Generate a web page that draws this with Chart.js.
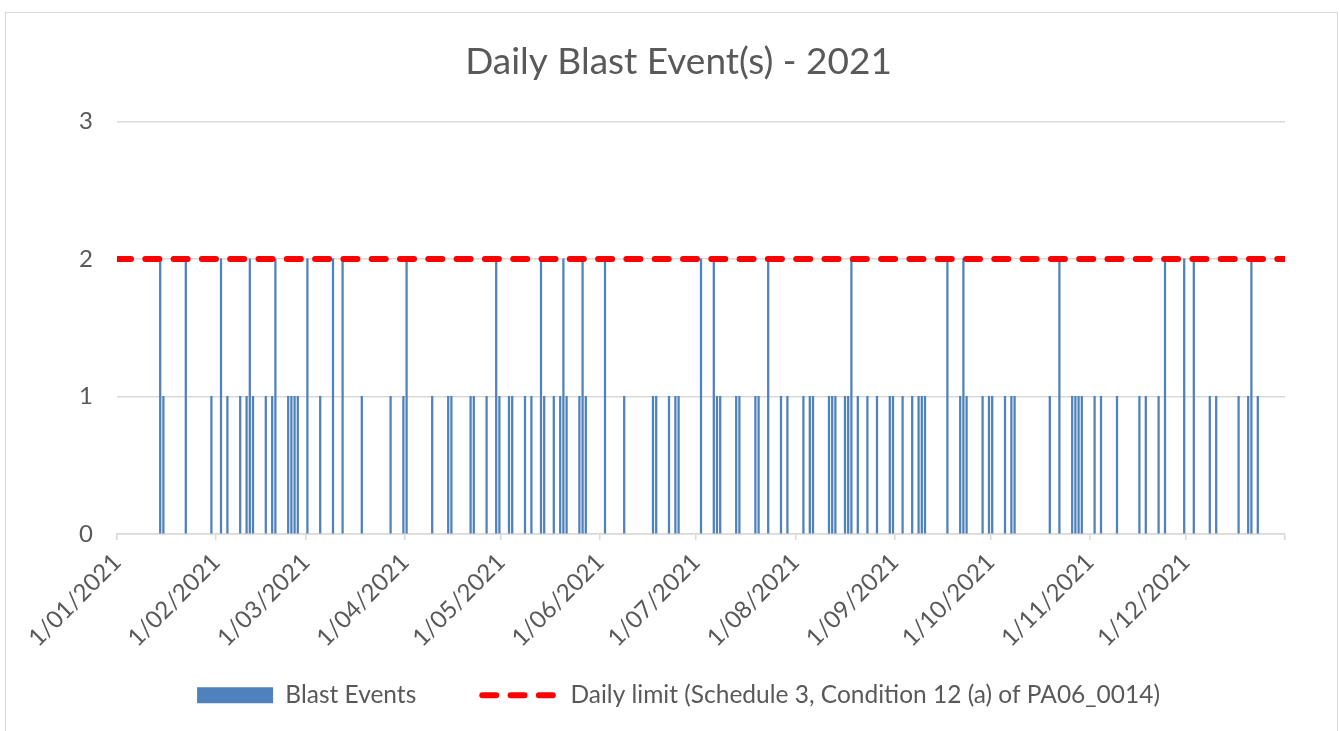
<!DOCTYPE html>
<html><head><meta charset="utf-8">
<script src="https://cdn.jsdelivr.net/npm/chart.js@4.4.1/dist/chart.umd.min.js"></script>
<style>
html,body{margin:0;padding:0;background:#fff;overflow:hidden;width:1339px;height:731px}
#c{position:absolute;left:0;top:0}
#frame{position:absolute;left:5px;top:12px;width:1333px;height:740px;border:1.5px solid #d9d9d9;box-sizing:border-box;pointer-events:none}
</style></head><body>
<canvas id="c" width="1339" height="731"></canvas>
<div id="frame"></div>
<script>
const chartTitle = 'Daily Blast Event(s) - 2021';
const seriesNames = ['Blast Events', 'Daily limit (Schedule 3, Condition 12 (a) of PA06_0014)'];
const blastDates = [
  '2021-01-14','2021-01-15','2021-01-22','2021-01-30',
  '2021-02-02','2021-02-04','2021-02-08','2021-02-10','2021-02-11','2021-02-12','2021-02-16','2021-02-18','2021-02-19','2021-02-23','2021-02-24','2021-02-25','2021-02-26',
  '2021-03-01','2021-03-05','2021-03-09','2021-03-12','2021-03-18','2021-03-27','2021-03-31',
  '2021-04-01','2021-04-09','2021-04-14','2021-04-15','2021-04-21','2021-04-22','2021-04-26','2021-04-29','2021-04-30',
  '2021-05-03','2021-05-04','2021-05-08','2021-05-10','2021-05-13','2021-05-14','2021-05-17','2021-05-19','2021-05-20','2021-05-21','2021-05-25','2021-05-26','2021-05-27',
  '2021-06-02','2021-06-08','2021-06-17','2021-06-18','2021-06-22','2021-06-24','2021-06-25',
  '2021-07-02','2021-07-06','2021-07-07','2021-07-08','2021-07-13','2021-07-14','2021-07-19','2021-07-20','2021-07-23','2021-07-27','2021-07-29',
  '2021-08-03','2021-08-05','2021-08-06','2021-08-11','2021-08-12','2021-08-13','2021-08-16','2021-08-17','2021-08-18','2021-08-20','2021-08-23','2021-08-26','2021-08-30','2021-08-31',
  '2021-09-03','2021-09-06','2021-09-08','2021-09-09','2021-09-10','2021-09-17','2021-09-21','2021-09-22','2021-09-23','2021-09-28','2021-09-30',
  '2021-10-01','2021-10-05','2021-10-07','2021-10-08','2021-10-19','2021-10-22','2021-10-26','2021-10-27','2021-10-28','2021-10-29',
  '2021-11-02','2021-11-04','2021-11-09','2021-11-16','2021-11-18','2021-11-22','2021-11-24','2021-11-30',
  '2021-12-03','2021-12-08','2021-12-10','2021-12-17','2021-12-20','2021-12-21','2021-12-23'
];
const blastCounts = [
  2,1,2,1,
  2,1,1,1,2,1,1,1,2,1,1,1,1,
  2,1,2,2,1,1,1,
  2,1,1,1,1,1,1,2,1,
  1,1,1,1,2,1,1,1,2,1,1,2,1,
  2,1,1,1,1,1,1,
  2,2,1,1,1,1,1,1,2,1,1,
  1,1,1,1,1,1,1,1,2,1,1,1,1,1,
  1,1,1,1,1,2,1,2,1,1,1,
  1,1,1,1,1,2,1,1,1,1,
  1,1,1,1,1,1,2,2,
  2,1,1,1,1,2,1
];
const tickLabels = ['1/01/2021','1/02/2021','1/03/2021','1/04/2021','1/05/2021','1/06/2021','1/07/2021','1/08/2021','1/09/2021','1/10/2021','1/11/2021','1/12/2021'];
const yMin = 0, yMax = 3, yStep = 1;
const dailyLimit = 2;
const yearStart = '2021-01-01', yearEnd = '2022-01-01';

const DAY = 86400000;
const isoToDay = s => { const [y,m,d] = s.split('-').map(Number); return (Date.UTC(y,m-1,d) - Date.UTC(2021,0,1)) / DAY; };
const labelToDay = s => { const [d,m,y] = s.split('/').map(Number); return (Date.UTC(y,m-1,d) - Date.UTC(2021,0,1)) / DAY; };
const axisMin = isoToDay(yearStart), axisMax = isoToDay(yearEnd);
const tickDays = tickLabels.map(labelToDay).concat([axisMax]);

const grey = '#595959', gridGrey = '#d9d9d9', font = 'Lato';

new Chart(document.getElementById('c'), {
  type: 'bar',
  data: {
    datasets: [
      { type: 'bar', label: seriesNames[0], order: 1,
        data: blastDates.map((d, i) => ({ x: isoToDay(d) + 0.5, y: blastCounts[i] })),
        backgroundColor: '#4f81bd', barThickness: 1.6, borderWidth: 0 },
      { type: 'line', label: seriesNames[1], order: 0,
        data: [{ x: axisMin, y: dailyLimit }, { x: axisMax, y: dailyLimit }],
        borderColor: '#ff0000', borderWidth: 6, borderDash: [14, 14.3], borderCapStyle: 'round',
        pointRadius: 0, fill: false }
    ]
  },
  options: {
    responsive: false, animation: false,
    layout: { padding: { left: 72, right: 54, top: 0, bottom: 13.6 } },
    plugins: {
      tooltip: { enabled: false },
      title: { display: true, text: chartTitle, color: grey,
        font: { family: font, size: 37, weight: 'normal' }, padding: { top: 40, bottom: 37 } },
      legend: { position: 'bottom',
        labels: { usePointStyle: true, pointStyleWidth: 76, boxHeight: 16, padding: 66,
          color: grey, font: { family: font, size: 24.5 },
          generateLabels: (chart) => chart.data.datasets.map((ds, i) => ({
            text: ds.label, datasetIndex: i, hidden: false, fontColor: grey,
            fillStyle: ds.type === 'bar' ? ds.backgroundColor : 'rgba(0,0,0,0)',
            strokeStyle: ds.type === 'bar' ? ds.backgroundColor : ds.borderColor,
            lineWidth: ds.type === 'bar' ? 0 : ds.borderWidth,
            lineDash: ds.type === 'bar' ? [] : ds.borderDash,
            lineCap: 'round',
            pointStyle: ds.type === 'bar' ? 'rect' : 'line'
          }))
        } }
    },
    scales: {
      x: { type: 'linear', min: axisMin, max: axisMax, offset: false,
        afterBuildTicks: s => { s.ticks = tickDays.map(v => ({ value: v })); },
        ticks: { autoSkip: false, maxRotation: 45, minRotation: 45, color: grey, padding: 8,
          font: { family: font, size: 24 }, callback: (v, i) => tickLabels[i] || '' },
        grid: { offset: false, drawOnChartArea: false, drawTicks: true, tickLength: 6, color: gridGrey, lineWidth: 1.5 },
        border: { display: true, color: gridGrey, width: 1.5 },
        afterFit: s => { s.height = 83; },
        afterUpdate: s => { s._computeLabelArea = () => undefined; }
      },
      y: { min: yMin, max: yMax,
        ticks: { stepSize: yStep, color: grey, padding: 24, font: { family: font, size: 24 } },
        grid: { color: gridGrey, lineWidth: 1.5, drawTicks: false },
        border: { display: false },
        afterFit: s => { s.width = 45; }
      }
    }
  }
});
</script>
</body></html>
